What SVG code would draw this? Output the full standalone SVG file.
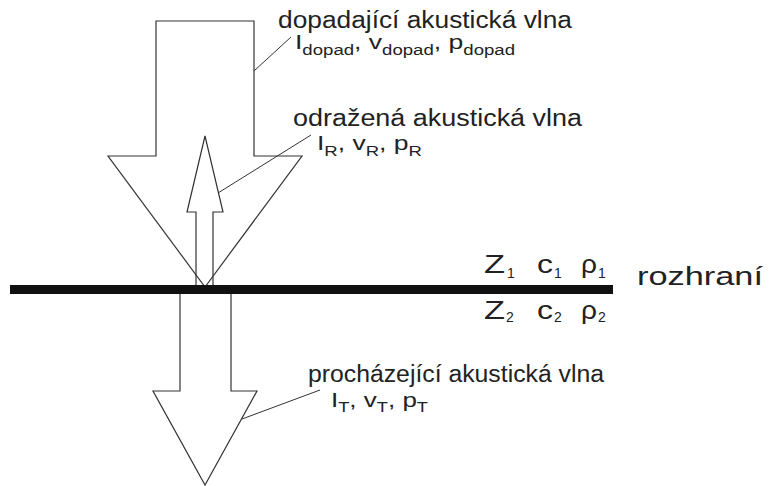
<svg xmlns="http://www.w3.org/2000/svg" width="769" height="486" viewBox="0 0 769 486">
<style>
.ar{fill:none;stroke:#333;stroke-width:1.2;stroke-linejoin:miter}
.ld{fill:none;stroke:#333;stroke-width:1}
text{font-family:"Liberation Sans",Arial,sans-serif;fill:#222}
.lb{font-size:23px}
.rz{font-size:26px}
.vv{font-size:20px}
.sb{font-size:14px}
.zz{font-size:25px}
.zs{font-size:14px}
</style>
<rect width="769" height="486" fill="#fff"/>
<g id="incident">
<polygon class="ar" points="156,21 254,21 254,156 302,156 205,287 108,156 156,156"/>
</g>
<g id="reflected">
<polygon class="ar" points="205,136 223,212 213,212 213,287 196,287 196,212 187,212"/>
</g>
<g id="transmitted">
<polygon class="ar" points="180,293 231,293 231,391 257,391 205,485 153,391 180,391"/>
</g>
<g id="interface">
<rect x="10" y="285" width="603" height="9" fill="#111"/>
<text class="rz" x="637" y="285" textLength="126" lengthAdjust="spacingAndGlyphs">rozhraní</text>
</g>
<g id="medium1">
<text class="zz" x="484" y="273" textLength="21" lengthAdjust="spacingAndGlyphs">Z</text><text class="zs" x="507" y="278">1</text>
<text class="zz" x="537" y="273" textLength="16" lengthAdjust="spacingAndGlyphs">c</text><text class="zs" x="554" y="278">1</text>
<text class="zz" x="581" y="273" textLength="16" lengthAdjust="spacingAndGlyphs">ρ</text><text class="zs" x="598" y="278">1</text>
</g>
<g id="medium2">
<text class="zz" x="484" y="319" textLength="21" lengthAdjust="spacingAndGlyphs">Z</text><text class="zs" x="506" y="322">2</text>
<text class="zz" x="537" y="319" textLength="16" lengthAdjust="spacingAndGlyphs">c</text><text class="zs" x="554" y="322">2</text>
<text class="zz" x="581" y="319" textLength="16" lengthAdjust="spacingAndGlyphs">ρ</text><text class="zs" x="598" y="322">2</text>
</g>
<g id="connectors">
<line class="ld" x1="254" y1="71" x2="291" y2="37"/>
<line class="ld" x1="218" y1="193" x2="311" y2="135"/>
<line class="ld" x1="242" y1="419" x2="320" y2="390"/>
</g>
<g id="label-incident">
<text class="lb" x="278" y="28" textLength="294" lengthAdjust="spacingAndGlyphs">dopadající akustická vlna</text>
<text class="vv" x="295" y="49" textLength="220" lengthAdjust="spacingAndGlyphs">I<tspan class="sb" dy="6">dopad</tspan><tspan dy="-6">, v</tspan><tspan class="sb" dy="6">dopad</tspan><tspan dy="-6">, p</tspan><tspan class="sb" dy="6">dopad</tspan></text>
</g>
<g id="label-reflected">
<text class="lb" x="293" y="126" textLength="289" lengthAdjust="spacingAndGlyphs">odražená akustická vlna</text>
<text class="vv" x="317" y="150" textLength="105" lengthAdjust="spacingAndGlyphs">I<tspan class="sb" dy="6">R</tspan><tspan dy="-6">, v</tspan><tspan class="sb" dy="6">R</tspan><tspan dy="-6">, p</tspan><tspan class="sb" dy="6">R</tspan></text>
</g>
<g id="label-transmitted">
<text class="lb" x="308" y="382" textLength="296" lengthAdjust="spacingAndGlyphs">procházející akustická vlna</text>
<text class="vv" x="331" y="407" textLength="97" lengthAdjust="spacingAndGlyphs">I<tspan class="sb" dy="5">T</tspan><tspan dy="-5">, v</tspan><tspan class="sb" dy="5">T</tspan><tspan dy="-5">, p</tspan><tspan class="sb" dy="5">T</tspan></text>
</g>
</svg>
